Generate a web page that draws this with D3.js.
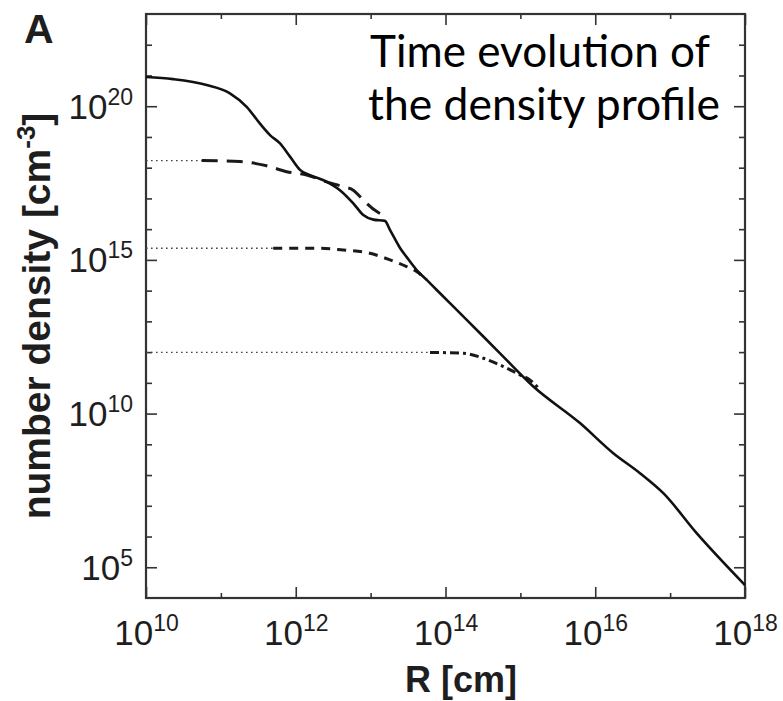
<!DOCTYPE html>
<html><head><meta charset="utf-8">
<script src="https://cdn.jsdelivr.net/npm/d3@7"></script>
<style>body{margin:0;background:#fff} svg{display:block}</style>
</head><body>
<svg id="chart" width="783" height="701"></svg>
<script>
// ---- data (R in cm, n in cm^-3) ----
const solidR = [1e10, 2.29e10, 6.46e10, 1.32e11, 2.21e11, 3.31e11, 4.53e11, 6.17e11, 8.38e11, 1.14e12, 1.55e12, 2.59e12, 3.89e12, 5.87e12, 7.98e12, 1.09e13, 1.55e13, 1.82e13, 2.47e13, 3.03e13, 4.12e13, 5.61e13, 7.64e13, 1.92e14, 5.35e14, 1.49e15, 6.25e15, 1.74e16, 3.96e16, 8.11e16, 2.26e17, 1e18];
const solidN = [8.91e20, 7.59e20, 4.90e20, 2.63e20, 9.55e19, 2.75e19, 1.15e19, 6.17e18, 2.29e18, 8.51e17, 5.75e17, 3.47e17, 1.86e17, 6.92e16, 2.88e16, 2.04e16, 1.86e16, 9.33e15, 2.45e15, 1.23e15, 4.68e14, 2.24e14, 1.05e14, 1.12e13, 9.12e11, 7.59e10, 4.90e9, 5.13e8, 1.15e8, 2.57e7, 1.29e6, 2.63e4];

const longDashR = [5.55e10, 1.80e11, 4.09e11, 7.57e11, 1.40e12, 2.59e12, 4.32e12, 5.87e12, 7.21e12, 8.87e12, 1.21e13, 1.64e13];
const longDashN = [1.70e18, 1.58e18, 1.15e18, 7.41e17, 5.75e17, 3.47e17, 2.40e17, 1.86e17, 1.15e17, 6.92e16, 3.72e16, 2.57e16];

const shortDashR = [5.0e11, 1.91e12, 4.32e12, 8.87e12, 1.82e13, 3.03e13, 4.12e13, 5.61e13];
const shortDashN = [2.40e15, 2.40e15, 2.09e15, 1.74e15, 1.0e15, 6.03e14, 4.17e14, 2.24e14];

const dashDotR = [6.21e13, 1.73e14, 3.20e14, 5.92e14, 9.89e14, 1.35e15, 1.83e15];
const dashDotN = [9.77e11, 9.12e11, 6.31e11, 3.39e11, 1.82e11, 1.23e11, 5.89e10];

const xMajorTicks = [1e10, 1e12, 1e14, 1e16, 1e18];
const xMajorLabels = ["10", "12", "14", "16", "18"];
const xMinorTicks = [1e11, 1e13, 1e15, 1e17];
const yMajorTicks = [1e5, 1e10, 1e15, 1e20];
const yMajorLabels = ["5", "10", "15", "20"];
const yMinorTicks = [1e6, 1e7, 1e8, 1e9, 1e11, 1e12, 1e13, 1e14, 1e16, 1e17, 1e18, 1e19, 1e21, 1e22];

const panelLabel = "A";
const xTitle = "R [cm]";
const noteLines = ["Time evolution of", "the density profile"];

// ---- drawing ----
const svg = d3.select("#chart");
const L = 146, R = 745, T = 14, B = 598;
const x = d3.scaleLog().domain([1e10, 1e18]).range([L, R]);
const y = d3.scaleLog().domain([1e4, 1e23]).range([B, T]);

const axisColor = "#333";
const tickFont = "'Liberation Sans', Arial, Helvetica, sans-serif";

function addAxis(axisGen, transform) {
  const g = svg.append("g").attr("transform", transform).call(axisGen)
    .attr("font-family", tickFont);
  g.select(".domain").remove();
  g.selectAll(".tick line").attr("stroke", axisColor).attr("stroke-width", 1.6);
  return g;
}

// bottom
const bMajor = addAxis(d3.axisBottom(x).tickValues(xMajorTicks).tickSize(-11), `translate(0,${B})`);
bMajor.selectAll(".tick text").each(function(d, i) {
  const t = d3.select(this);
  t.text(null).attr("y", 47).attr("dy", 0).attr("fill", "#1e1e1e")
    .attr("font-family", tickFont).attr("font-size", 35).attr("text-anchor", "middle");
  t.append("tspan").text("10");
  t.append("tspan").attr("dy", -14).attr("font-size", 23).text(xMajorLabels[i]);
});
addAxis(d3.axisBottom(x).tickValues(xMinorTicks).tickSize(-5).tickFormat(""), `translate(0,${B})`);
// top
addAxis(d3.axisTop(x).tickValues(xMajorTicks).tickSize(-11).tickFormat(""), `translate(0,${T})`);
addAxis(d3.axisTop(x).tickValues(xMinorTicks).tickSize(-5).tickFormat(""), `translate(0,${T})`);
// left
const lMajor = addAxis(d3.axisLeft(y).tickValues(yMajorTicks).tickSize(-11), `translate(${L},0)`);
lMajor.selectAll(".tick text").each(function(d, i) {
  const t = d3.select(this);
  t.text(null).attr("x", -13).attr("y", 12).attr("dy", 0).attr("fill", "#1e1e1e")
    .attr("font-family", tickFont).attr("font-size", 35).attr("text-anchor", "end");
  t.append("tspan").text("10");
  t.append("tspan").attr("dy", -14).attr("font-size", 23).text(yMajorLabels[i]);
});
addAxis(d3.axisLeft(y).tickValues(yMinorTicks).tickSize(-6).tickFormat(""), `translate(${L},0)`);
// right
addAxis(d3.axisRight(y).tickValues(yMajorTicks).tickSize(-11).tickFormat(""), `translate(${R},0)`);
addAxis(d3.axisRight(y).tickValues(yMinorTicks).tickSize(-6).tickFormat(""), `translate(${R},0)`);

// frame
svg.append("rect").attr("x", L).attr("y", T).attr("width", R - L).attr("height", B - T)
  .attr("fill", "none").attr("stroke", axisColor).attr("stroke-width", 2.2);

// curves
const line = d3.line().x(d => x(d[0])).y(d => y(d[1])).curve(d3.curveMonotoneX);
const zip = (a, b) => a.map((v, i) => [v, b[i]]);
const plot = svg.append("g");

// dotted flat cores: from the left edge to where each dashed profile begins
[[longDashR, longDashN], [shortDashR, shortDashN], [dashDotR, dashDotN]].forEach(([rs, ns]) => {
  plot.append("line")
    .attr("x1", x(x.domain()[0])).attr("x2", x(rs[0]))
    .attr("y1", y(ns[0])).attr("y2", y(ns[0]))
    .attr("stroke", "#444").attr("stroke-width", 1.4).attr("stroke-dasharray", "1.6,3.4");
});

plot.append("path").attr("d", line(zip(longDashR, longDashN)))
  .attr("fill", "none").attr("stroke", "#1a1a1a").attr("stroke-width", 3).attr("stroke-dasharray", "16,9");
plot.append("path").attr("d", line(zip(shortDashR, shortDashN)))
  .attr("fill", "none").attr("stroke", "#1a1a1a").attr("stroke-width", 3).attr("stroke-dasharray", "9,7");
plot.append("path").attr("d", line(zip(dashDotR, dashDotN)))
  .attr("fill", "none").attr("stroke", "#1a1a1a").attr("stroke-width", 3).attr("stroke-dasharray", "9,4,3,4");
plot.append("path").attr("d", line(zip(solidR, solidN)))
  .attr("fill", "none").attr("stroke", "#111").attr("stroke-width", 2.6).attr("stroke-linejoin", "round");

// titles
svg.append("text").attr("x", 461).attr("y", 692).attr("text-anchor", "middle")
  .attr("font-family", tickFont).attr("font-weight", "bold").attr("font-size", 36).attr("fill", "#1e1e1e")
  .text(xTitle);

const yt = svg.append("text").attr("transform", "translate(50,316) rotate(-90)").attr("text-anchor", "middle")
  .attr("font-family", tickFont).attr("font-weight", "bold").attr("font-size", 39).attr("fill", "#1e1e1e");
yt.append("tspan").text("number density [cm");
yt.append("tspan").attr("dy", -15).attr("font-size", 26).text("-3");
yt.append("tspan").attr("dy", 15).text("]");

svg.append("text").attr("x", 24).attr("y", 43)
  .attr("font-family", tickFont).attr("font-weight", "bold").attr("font-size", 41).attr("fill", "#1e1e1e")
  .text(panelLabel);

// annotation
svg.append("text").attr("x", 370).attr("y", 66.5)
  .attr("font-family", "Lato, 'Open Sans', sans-serif").attr("font-size", 44).attr("fill", "#000")
  .attr("textLength", 340).attr("lengthAdjust", "spacingAndGlyphs").text(noteLines[0]);
svg.append("text").attr("x", 368).attr("y", 120)
  .attr("font-family", "Lato, 'Open Sans', sans-serif").attr("font-size", 44).attr("fill", "#000")
  .attr("textLength", 352).attr("lengthAdjust", "spacingAndGlyphs").text(noteLines[1]);
</script>
</body></html>
